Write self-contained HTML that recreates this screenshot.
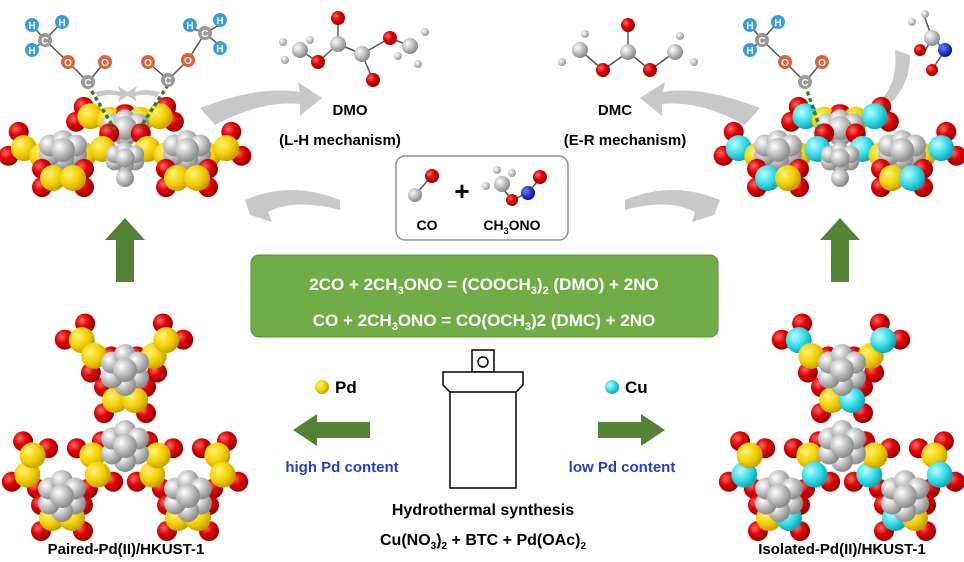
<!DOCTYPE html>
<html><head><meta charset="utf-8"><style>
html,body{margin:0;padding:0;background:#fff;}
svg{display:block;font-family:"Liberation Sans",Arial,sans-serif;font-weight:bold;}
</style></head><body>
<svg id="s" width="964" height="562" viewBox="0 0 964 562" xmlns="http://www.w3.org/2000/svg">
<defs>
<radialGradient id="gr" cx="35%" cy="35%" r="65%"><stop offset="0" stop-color="#fff"/><stop offset="1" stop-color="#8a8a8a"/></radialGradient>
<radialGradient id="rd" cx="35%" cy="35%" r="65%"><stop offset="0" stop-color="#ff6a6a"/><stop offset="0.5" stop-color="#e00000"/><stop offset="1" stop-color="#900"/></radialGradient>
<radialGradient id="yl" cx="35%" cy="35%" r="65%"><stop offset="0" stop-color="#fff27a"/><stop offset="0.6" stop-color="#f2d000"/><stop offset="1" stop-color="#c9a000"/></radialGradient>
<radialGradient id="cy" cx="35%" cy="35%" r="65%"><stop offset="0" stop-color="#bffcff"/><stop offset="0.6" stop-color="#33dbe8"/><stop offset="1" stop-color="#10a8b5"/></radialGradient>
<radialGradient id="bl" cx="35%" cy="35%" r="65%"><stop offset="0" stop-color="#6b7bff"/><stop offset="1" stop-color="#0010a0"/></radialGradient>
<radialGradient id="wh" cx="35%" cy="35%" r="65%"><stop offset="0" stop-color="#fff"/><stop offset="1" stop-color="#999"/></radialGradient>
</defs>

<g fill="#c8c8c8">
<path d="M200 108 Q260 85 300 92 L298 82 L322 98 L300 116 L300 104 Q262 100 215 125 Z"/>
<path d="M245 200 Q290 180 340 200 L340 210 Q295 198 268 212 L272 222 L250 215 Z"/>
<path d="M760 108 Q700 85 663 92 L665 82 L640 98 L662 116 L662 104 Q700 100 745 125 Z"/>
<path d="M720 200 Q672 180 625 200 L625 210 Q668 198 695 212 L692 222 L714 215 Z"/>
<path d="M895 50 Q900 100 855 115 L857 105 L835 120 L858 132 L856 122 Q910 105 910 55 Z"/>
<path d="M95 92 Q110 88 120 92 L118 86 L130 94 L118 102 L120 96 Q110 93 98 97Z"/>
<path d="M160 92 Q145 88 135 92 L137 86 L125 94 L137 102 L135 96 Q145 93 157 97Z"/>
</g>

<polygon points="125,218 145,240 134,240 134,282 116,282 116,240 105,240" fill="#548235"/>
<polygon points="840,218 860,240 849,240 849,282 831,282 831,240 820,240" fill="#548235"/>
<polygon points="293,430 317,414 317,422 370,422 370,438 317,438 317,446" fill="#548235"/>
<polygon points="665,430 641,414 641,422 598,422 598,438 641,438 641,446" fill="#548235"/>

<rect x="396" y="156" width="172" height="84" rx="9" fill="#fff" stroke="#8a8f99" stroke-width="1.5"/>
<text x="427" y="230" font-size="14" text-anchor="middle">CO</text>
<text x="512" y="230" font-size="14" text-anchor="middle">CH<tspan font-size="9" dy="4">3</tspan><tspan dy="-4">ONO</tspan></text>
<text x="462" y="200" font-size="26" text-anchor="middle">+</text>

<rect x="251" y="255" width="467" height="82" rx="8" fill="#70ad47" stroke="#5b8f3a"/>
<text x="484" y="290" font-size="17" fill="#fff" text-anchor="middle">2CO + 2CH<tspan font-size="11" dy="4">3</tspan><tspan dy="-4">ONO = (COOCH</tspan><tspan font-size="11" dy="4">3</tspan><tspan dy="-4">)</tspan><tspan font-size="11" dy="4">2</tspan><tspan dy="-4"> (DMO) + 2NO</tspan></text>
<text x="484" y="326" font-size="17" fill="#fff" text-anchor="middle">CO + 2CH<tspan font-size="11" dy="4">3</tspan><tspan dy="-4">ONO = CO(OCH</tspan><tspan font-size="11" dy="4">3</tspan><tspan dy="-4">)2 (DMC) + 2NO</tspan></text>

<g fill="#fff" stroke="#000" stroke-width="1.5">
<rect x="472" y="350" width="22" height="22"/>
<circle cx="483" cy="362" r="5"/>
<path d="M443 372 H523 V385 L516 392 V488 H450 V392 L443 385 Z"/>
<line x1="450" y1="392" x2="516" y2="392"/>
</g>

<text x="350" y="115" font-size="15" text-anchor="middle">DMO</text>
<text x="340" y="145" font-size="15" text-anchor="middle">(L-H mechanism)</text>
<text x="615" y="115" font-size="15" text-anchor="middle">DMC</text>
<text x="625" y="145" font-size="15" text-anchor="middle">(E-R mechanism)</text>

<circle cx="322" cy="387" r="7" fill="url(#yl)"/>
<text x="335" y="393" font-size="17">Pd</text>
<circle cx="612" cy="387" r="7" fill="url(#cy)"/>
<text x="625" y="393" font-size="17">Cu</text>
<text x="342" y="472" font-size="15" fill="#1f3fd0" text-anchor="middle">high Pd content</text>
<text x="622" y="472" font-size="15" fill="#1f3fd0" text-anchor="middle">low Pd content</text>
<text x="483" y="515" font-size="16" text-anchor="middle">Hydrothermal synthesis</text>
<text x="483" y="545" font-size="16" text-anchor="middle">Cu(NO<tspan font-size="10" dy="4">3</tspan><tspan dy="-4">)</tspan><tspan font-size="10" dy="4">2</tspan><tspan dy="-4"> + BTC + Pd(OAc)</tspan><tspan font-size="10" dy="4">2</tspan></text>
<text x="126" y="554" font-size="15" text-anchor="middle">Paired-Pd(II)/HKUST-1</text>
<text x="842" y="554" font-size="15" text-anchor="middle">Isolated-Pd(II)/HKUST-1</text>

<g id="dyn"></g>
</svg>
<script>
var g=document.getElementById('dyn'),NS='http://www.w3.org/2000/svg';
function C(x,y,r,f){var c=document.createElementNS(NS,'circle');c.setAttribute('cx',x);c.setAttribute('cy',y);c.setAttribute('r',r);c.setAttribute('fill',f);g.appendChild(c);}
function L(x1,y1,x2,y2,col,w,d){var l=document.createElementNS(NS,'line');l.setAttribute('x1',x1);l.setAttribute('y1',y1);l.setAttribute('x2',x2);l.setAttribute('y2',y2);l.setAttribute('stroke',col||'#555');l.setAttribute('stroke-width',w||1.5);if(d)l.setAttribute('stroke-dasharray',d);g.appendChild(l);}
function T(x,y,t,f,col){var e=document.createElementNS(NS,'text');e.setAttribute('x',x);e.setAttribute('y',y);e.setAttribute('font-size',f);e.setAttribute('fill',col);e.setAttribute('text-anchor','middle');e.textContent=t;g.appendChild(e);}
function ring(x,y,s,sy){sy=sy||1;for(var i=0;i<6;i++){var a=i*Math.PI/3+Math.PI/6;C(x+Math.cos(a)*15*s,y+Math.sin(a)*15*s*sy,11*s,'url(#gr)');}C(x,y,12*s,'url(#gr)');}
function paddle(x,y,ang,s,c1,c2,sy){sy=sy||1;var ca=Math.cos(ang),sa=Math.sin(ang),px=-sa,py=ca;
 [[-1,-1],[1,-1],[-1,1],[1,1]].forEach(function(p){C(x+ca*p[0]*21*s+px*p[1]*13*s,y+(sa*p[0]*21*s+py*p[1]*13*s)*sy,10*s,'url(#rd)');});
 C(x-ca*10*s,y-sa*10*s*sy,13*s,c1);C(x+ca*10*s,y+sa*10*s*sy,13*s,c2);}
function cluster(ox,oy,s,cols,sy){sy=sy||1;
 function P(x,y){return[ox+x*s,oy+y*s*sy];}
 var pads=[[-37,-62,0.9],[35,-62,-0.9],[0,-10,0],[-95,55,-1.3],[-30,55,1.3],[-63,108,0],[30,55,-1.3],[95,55,1.3],[63,108,0]];
 pads.forEach(function(p,i){var q=P(p[0],p[1]);paddle(q[0],q[1],p[2],s,cols[i][0],cols[i][1],sy);});
 [[0,-40],[0,36],[-63,86],[63,86]].forEach(function(r){var q=P(r[0],r[1]);ring(q[0],q[1],s,sy);});}
var Y='url(#yl)',Cy='url(#cy)';
var yy=[[Y,Y],[Y,Y],[Y,Y],[Y,Y],[Y,Y],[Y,Y],[Y,Y],[Y,Y],[Y,Y]];
var mix=[[Cy,Y],[Y,Cy],[Y,Cy],[Cy,Y],[Y,Cy],[Y,Cy],[Cy,Y],[Y,Cy],[Cy,Y]];
cluster(125,410,1,yy);
cluster(842,410,1,mix);
function topc(ox,cols){var s=1.0;
 paddle(ox-25,118,0.3,s,cols[0],cols[1],0.6);paddle(ox+25,118,-0.3,s,cols[1],cols[0],0.6);
 ring(ox,128,s,0.5);
 paddle(ox-92,152,0.4,s,cols[0],cols[1],1);paddle(ox-32,152,-0.3,s,cols[1],cols[0],1);
 paddle(ox+32,152,0.3,s,cols[0],cols[1],1);paddle(ox+92,152,-0.4,s,cols[1],cols[0],1);
 ring(ox-62,150,s,0.6);ring(ox+62,150,s,0.6);ring(ox,158,s*0.8,0.6);
 paddle(ox-62,178,0,s,cols[0],cols[1],0.7);paddle(ox+62,178,0,s,cols[1],cols[0],0.7);
 C(ox,178,9,'url(#gr)');}
topc(125,[Y,Y]);topc(840,[Cy,Y]);
function atomL(x,y,t,col){C(x,y,7,col);T(x,y+4,t,10,'#fff');}
L(32,25,45,40);L(62,22,45,40);L(32,50,45,40);L(45,40,68,62);L(68,62,88,82);L(88,82,105,62);
L(183,25,205,33);L(225,22,205,33);L(225,50,205,33);L(205,33,188,60);L(188,60,168,80);L(168,80,148,62);
L(88,85,115,130,'#2e7d32',3.5,'4,3');L(168,85,140,128,'#2e7d32',3.5,'4,3');
atomL(32,25,'H','#3b9de0');atomL(62,22,'H','#3b9de0');atomL(32,50,'H','#3b9de0');atomL(45,40,'C','#999');
atomL(68,62,'O','#e0603a');atomL(105,62,'O','#e0603a');atomL(88,82,'C','#999');
atomL(190,25,'H','#3b9de0');atomL(220,20,'H','#3b9de0');atomL(220,48,'H','#3b9de0');atomL(205,33,'C','#999');
atomL(188,60,'O','#e0603a');atomL(148,62,'O','#e0603a');atomL(168,80,'C','#999');
L(750,25,762,40);L(778,22,762,40);L(750,50,762,40);L(762,40,785,62);L(785,62,805,82);L(805,82,822,62);
L(805,85,820,128,'#2e7d32',3.5,'4,3');
atomL(750,25,'H','#3b9de0');atomL(778,22,'H','#3b9de0');atomL(750,50,'H','#3b9de0');atomL(762,40,'C','#999');
atomL(785,62,'O','#e0603a');atomL(822,62,'O','#e0603a');atomL(805,82,'C','#999');
L(925,18,932,38);L(932,38,945,50);L(945,50,932,70);L(923,55,932,38);
C(912,22,4,'url(#wh)');C(925,14,4,'url(#wh)');C(932,38,8,'url(#gr)');C(945,50,7,'url(#bl)');C(932,70,6,'url(#rd)');C(920,50,6,'url(#rd)');
L(300,50,318,62);L(318,62,338,44);L(338,44,362,54);L(362,54,390,38);L(390,38,410,46);L(338,44,338,18);L(362,54,373,80);
C(285,60,4,'url(#wh)');C(310,40,4,'url(#wh)');C(283,42,4,'url(#wh)');C(300,50,8,'url(#gr)');C(318,62,7,'url(#rd)');
C(338,44,8,'url(#gr)');C(338,18,7,'url(#rd)');C(362,54,8,'url(#gr)');C(373,80,7,'url(#rd)');C(390,38,7,'url(#rd)');
C(410,46,8,'url(#gr)');C(425,32,4,'url(#wh)');C(418,64,4,'url(#wh)');C(398,56,4,'url(#wh)');
L(580,50,603,70);L(603,70,628,52);L(628,52,650,70);L(650,70,675,52);L(628,52,628,25);
C(562,62,4,'url(#wh)');C(585,34,4,'url(#wh)');C(580,50,8,'url(#gr)');C(603,70,7,'url(#rd)');C(628,52,8,'url(#gr)');C(628,25,7,'url(#rd)');
C(650,70,7,'url(#rd)');C(675,52,8,'url(#gr)');C(680,36,4,'url(#wh)');C(694,62,4,'url(#wh)');
L(415,195,430,178);C(415,195,7,'url(#gr)');C(432,176,7,'url(#rd)');
L(500,185,512,200);L(512,200,528,193);L(528,193,540,178);
C(486,186,4,'url(#wh)');C(497,170,4,'url(#wh)');C(512,173,4,'url(#wh)');C(502,184,8,'url(#gr)');C(512,200,6,'url(#rd)');C(528,193,7,'url(#bl)');C(540,177,7,'url(#rd)');
</script>
</body></html>
